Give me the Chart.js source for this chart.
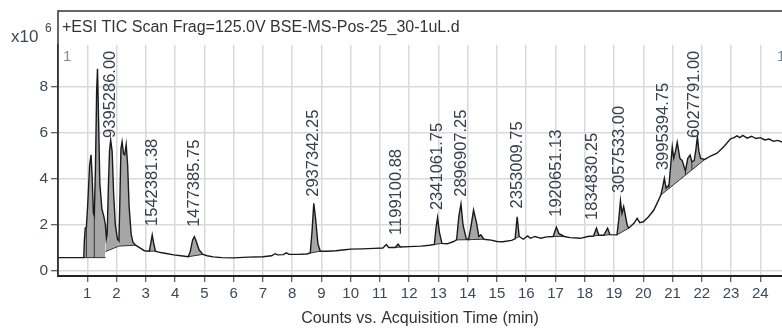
<!DOCTYPE html>
<html lang="en">
<head>
    <meta charset="UTF-8">
    <title>TIC Chromatogram</title>
    <script src="https://cdn.jsdelivr.net/npm/chart.js"></script>
    <style>
        body {
            margin: 0;
            background: #ffffff;
        }
        .chart-container {
            width: 782px;
            height: 328px;
            position: relative;
        }
    </style>
</head>
<body>

    <div class="chart-container">
        <canvas id="ticChart"></canvas>
    </div>

    <script>
        // retention time (min) and TIC counts (x10^6)
        const rt = [0.00, 0.50, 0.88, 0.90, 0.93, 0.97, 1.02, 1.08, 1.13, 1.17, 1.21, 1.24, 1.28, 1.32, 1.35, 1.38, 1.43, 1.50, 1.57, 1.62,
            1.65, 1.68, 1.72, 1.76, 1.80, 1.85, 1.90, 1.96, 2.03, 2.08, 2.11, 2.15, 2.19, 2.24, 2.28, 2.33, 2.38, 2.43, 2.50, 2.56,
            2.65, 2.80, 2.95, 3.12, 3.17, 3.22, 3.27, 3.33, 3.50, 3.70, 3.95, 4.20, 4.45, 4.52, 4.60, 4.66, 4.72, 4.82, 4.95, 5.10,
            5.30, 5.60, 6.00, 6.50, 7.00, 7.30, 7.42, 7.50, 7.70, 7.80, 7.90, 8.20, 8.50, 8.62, 8.68, 8.74, 8.80, 8.88, 8.96, 9.20,
            9.50, 9.80, 10.00, 10.40, 10.80, 11.10, 11.22, 11.30, 11.52, 11.62, 11.70, 12.00, 12.40, 12.70, 12.86, 12.92, 12.97, 13.03, 13.12, 13.30,
            13.50, 13.62, 13.70, 13.77, 13.84, 13.95, 14.03, 14.12, 14.20, 14.30, 14.38, 14.45, 14.55, 14.80, 15.00, 15.20, 15.50, 15.62, 15.69, 15.76,
            15.90, 16.05, 16.14, 16.30, 16.50, 16.70, 16.92, 17.03, 17.12, 17.30, 17.50, 17.85, 18.10, 18.30, 18.40, 18.48, 18.65, 18.78, 18.86, 19.10,
            19.16, 19.22, 19.27, 19.33, 19.45, 19.50, 19.68, 19.79, 19.88, 20.00, 20.18, 20.36, 20.47, 20.60, 20.67, 20.72, 20.78, 20.88, 20.99, 21.04,
            21.10, 21.16, 21.25, 21.33, 21.44, 21.52, 21.60, 21.66, 21.74, 21.80, 21.85, 21.90, 21.96, 22.10, 22.30, 22.52, 22.75, 22.98, 23.10, 23.20,
            23.30, 23.40, 23.55, 23.70, 23.85, 24.00, 24.15, 24.30, 24.45, 24.60, 24.75];
        const tic = [0.58, 0.58, 0.58, 1.30, 1.86, 1.90, 3.00, 4.60, 5.05, 4.00, 2.50, 2.40, 4.50, 7.80, 8.80, 7.00, 3.80, 2.70, 2.35, 2.00,
            1.40, 1.60, 3.60, 5.20, 5.70, 5.20, 3.40, 2.00, 1.40, 1.30, 2.80, 5.30, 5.62, 5.10, 5.05, 5.50, 4.60, 2.80, 1.60, 1.25,
            1.12, 1.00, 0.88, 0.86, 1.20, 1.57, 1.20, 0.86, 0.80, 0.76, 0.70, 0.66, 0.62, 0.85, 1.35, 1.49, 1.30, 0.92, 0.72, 0.66,
            0.61, 0.58, 0.57, 0.60, 0.62, 0.66, 0.75, 0.70, 0.71, 0.79, 0.72, 0.72, 0.74, 0.78, 1.70, 2.94, 2.30, 1.20, 0.86, 0.86,
            0.88, 0.92, 0.95, 0.96, 0.98, 1.00, 1.15, 1.02, 1.02, 1.17, 1.04, 1.06, 1.08, 1.12, 1.15, 1.90, 2.33, 1.70, 1.20, 1.18,
            1.27, 1.35, 2.40, 2.91, 2.00, 1.40, 1.36, 2.00, 2.65, 2.10, 1.50, 1.57, 1.38, 1.34, 1.28, 1.27, 1.33, 1.40, 2.36, 1.50,
            1.38, 1.52, 1.42, 1.50, 1.42, 1.48, 1.50, 1.90, 1.62, 1.50, 1.45, 1.42, 1.50, 1.52, 1.86, 1.55, 1.55, 1.86, 1.58, 1.57,
            2.20, 3.06, 2.50, 2.80, 2.00, 1.86, 2.07, 2.29, 2.10, 2.14, 2.36, 2.65, 2.94, 3.30, 3.70, 4.03, 3.60, 3.75, 5.40, 4.90,
            5.20, 5.60, 4.90, 4.80, 4.35, 4.90, 5.04, 4.75, 4.80, 5.30, 5.85, 5.20, 4.90, 4.85, 5.00, 5.12, 5.40, 5.75, 5.80, 5.88,
            5.80, 5.90, 5.78, 5.86, 5.76, 5.80, 5.70, 5.74, 5.64, 5.68, 5.60];

        // integrated peaks: window and baseline levels
        const peakStart = [0.88, 1.62, 2.08, 3.12, 4.45, 8.62, 11.52, 12.86, 13.62, 14.03, 15.62, 16.92, 18.30, 18.65, 19.10, 20.60];
        const peakEnd   = [1.62, 2.08, 2.65, 3.33, 4.95, 8.96, 11.70, 13.12, 14.03, 14.55, 15.76, 17.30, 18.48, 18.86, 19.50, 22.10];
        const baseStart = [0.58, 0.84, 1.08, 0.86, 0.62, 0.78, 1.02, 1.15, 1.35, 1.36, 1.40, 1.50, 1.52, 1.55, 1.57, 3.30];
        const baseEnd   = [0.58, 1.08, 1.12, 0.86, 0.72, 0.86, 1.04, 1.20, 1.36, 1.38, 1.50, 1.50, 1.55, 1.58, 1.86, 4.85];
        const dropTimes = [0.97, 1.24, 20.88, 21.44, 21.66];

        // peak area labels
        const labelTime  = [1.79, 3.22, 4.66, 8.74, 11.58, 12.97, 13.77, 15.69, 17.03, 18.26, 19.19, 20.69, 21.76];
        const labelValue = [5.44, 1.61, 1.57, 2.88, 1.22, 2.30, 2.88, 2.37, 2.01, 1.87, 3.04, 4.04, 5.44];
        const labelText  = ['9395286.00', '1542381.38', '1477385.75', '2937342.25', '1199100.88', '2341061.75', '2896907.25',
            '2353009.75', '1920651.13', '1834830.25', '3057533.00', '3995394.75', '6027791.00'];

        const xTicks = [1, 2, 3, 4, 5, 6, 7, 8, 9, 10, 11, 12, 13, 14, 15, 16, 17, 18, 19, 20, 21, 22, 23, 24];
        const yTicks = [0, 2, 4, 6, 8];

        const FONT = "'Liberation Sans', Arial, sans-serif";
        const TICK_COLOR = '#3b4959';
        const FILL = '#a6a6a6';

        const trace = rt.map((t, i) => ({ x: t, y: tic[i] }));

        function traceAt(t) {
            for (let i = 1; i < rt.length; i++) {
                if (rt[i] >= t) {
                    const f = (t - rt[i - 1]) / (rt[i] - rt[i - 1]);
                    return tic[i - 1] + f * (tic[i] - tic[i - 1]);
                }
            }
            return tic[tic.length - 1];
        }
        function baseAt(t) {
            for (let i = 0; i < peakStart.length; i++) {
                if (t >= peakStart[i] && t <= peakEnd[i]) {
                    const f = (t - peakStart[i]) / (peakEnd[i] - peakStart[i]);
                    return baseStart[i] + f * (baseEnd[i] - baseStart[i]);
                }
            }
            return traceAt(t);
        }

        const lineBase = { pointRadius: 0, tension: 0, fill: false };
        const datasets = [{
            ...lineBase,
            data: trace,
            borderColor: '#1a1a1a',
            borderWidth: 1.4
        }];

        dropTimes.forEach(t => {
            datasets.push({
                ...lineBase,
                data: [{ x: t, y: baseAt(t) }, { x: t, y: traceAt(t) }],
                borderColor: '#333333',
                borderWidth: 1
            });
        });

        peakStart.forEach((s, i) => {
            const e = peakEnd[i];
            const baseIdx = datasets.length;
            datasets.push({
                ...lineBase,
                data: [{ x: s, y: baseStart[i] }, { x: e, y: baseEnd[i] }],
                borderColor: '#333333',
                borderWidth: 1
            });
            datasets.push({
                ...lineBase,
                data: trace.filter(p => p.x >= s - 1e-9 && p.x <= e + 1e-9),
                borderColor: 'rgba(0,0,0,0)',
                borderWidth: 0,
                backgroundColor: FILL,
                fill: { target: baseIdx, above: FILL, below: FILL }
            });
        });

        const decor = {
            id: 'decor',
            afterDraw(chart) {
                const ctx = chart.ctx;
                const { left, bottom } = chart.chartArea;
                const xs = chart.scales.x, ys = chart.scales.y;

                // peak area labels
                ctx.save();
                ctx.fillStyle = '#34404e';
                ctx.font = '16.5px ' + FONT;
                ctx.textAlign = 'left';
                ctx.textBaseline = 'middle';
                labelTime.forEach((t, i) => {
                    const px = xs.getPixelForValue(t);
                    const py = ys.getPixelForValue(labelValue[i]) - 8;
                    ctx.save();
                    ctx.translate(px, py);
                    ctx.rotate(-Math.PI / 2);
                    ctx.fillText(labelText[i], 0, 0);
                    ctx.restore();
                });
                ctx.restore();

                // frame
                ctx.save();
                ctx.strokeStyle = '#333333';
                ctx.lineWidth = 1.5;
                ctx.beginPath();
                ctx.moveTo(left, bottom);
                ctx.lineTo(left, 11);
                ctx.lineTo(chart.width, 11);
                ctx.stroke();

                ctx.fillStyle = '#333333';
                ctx.font = '16px ' + FONT;
                ctx.textBaseline = 'middle';
                ctx.textAlign = 'left';
                ctx.fillText('+ESI TIC Scan Frag=125.0V BSE-MS-Pos-25_30-1uL.d', left + 4, 28);

                ctx.fillStyle = TICK_COLOR;
                ctx.font = '17px ' + FONT;
                ctx.fillText('x10', 11, 37);
                ctx.font = '12px ' + FONT;
                ctx.fillText('6', 45, 29);

                ctx.fillStyle = '#7b8a9a';
                ctx.font = '15px ' + FONT;
                ctx.fillText('1', left + 5, 57);
                ctx.fillText('1', 777, 57);
                ctx.restore();
            }
        };

        new Chart(document.getElementById('ticChart'), {
            type: 'line',
            data: { datasets },
            options: {
                responsive: true,
                maintainAspectRatio: false,
                animation: false,
                layout: { padding: { top: 45, left: 0, right: 0, bottom: 0 } },
                plugins: {
                    legend: { display: false },
                    tooltip: { enabled: false }
                },
                scales: {
                    x: {
                        type: 'linear',
                        min: 0,
                        max: 24.74,
                        afterBuildTicks: s => { s.ticks = xTicks.map(v => ({ value: v })); },
                        afterFit: s => { s.height = 52; },
                        grid: { color: '#d9d9d9', lineWidth: 1.5, tickColor: '#333333', tickLength: 6, tickWidth: 1 },
                        border: { color: '#222222', width: 2 },
                        ticks: { color: TICK_COLOR, font: { family: FONT, size: 15 }, padding: 3, maxRotation: 0, autoSkip: false },
                        title: {
                            display: true,
                            text: 'Counts vs. Acquisition Time (min)',
                            color: '#333333',
                            font: { family: FONT, size: 16 },
                            padding: { top: 0, bottom: 0 }
                        }
                    },
                    y: {
                        min: -0.22,
                        max: 9.83,
                        afterBuildTicks: s => { s.ticks = yTicks.map(v => ({ value: v })); },
                        afterFit: s => { s.width = 58; },
                        grid: { color: '#d9d9d9', lineWidth: 1.5, tickColor: '#333333', tickLength: 7, tickWidth: 1 },
                        border: { color: '#333333', width: 1.5 },
                        ticks: { color: TICK_COLOR, font: { family: FONT, size: 15.5 }, padding: 3 }
                    }
                }
            },
            plugins: [decor]
        });
    </script>

</body>
</html>
